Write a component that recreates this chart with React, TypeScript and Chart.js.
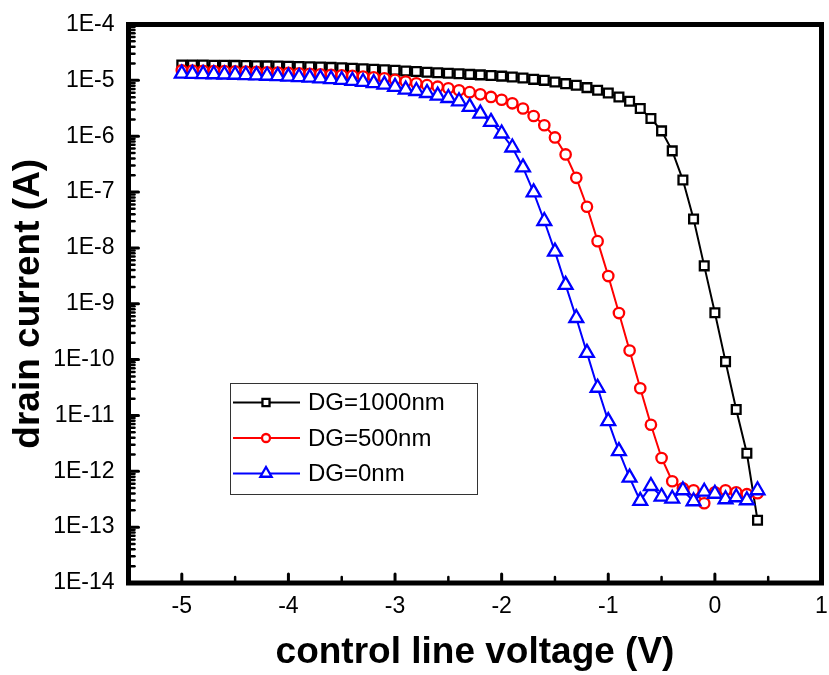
import React, { useEffect, useRef } from "react";
import { Chart, registerables } from "chart.js";

Chart.register(...registerables);

const voltage = [
  -5.0, -4.9, -4.8, -4.7, -4.6, -4.5, -4.4, -4.3, -4.2, -4.1,
  -4.0, -3.9, -3.8, -3.7, -3.6, -3.5, -3.4, -3.3, -3.2, -3.1,
  -3.0, -2.9, -2.8, -2.7, -2.6, -2.5, -2.4, -2.3, -2.2, -2.1,
  -2.0, -1.9, -1.8, -1.7, -1.6, -1.5, -1.4, -1.3, -1.2, -1.1,
  -1.0, -0.9, -0.8, -0.7, -0.6, -0.5, -0.4, -0.3, -0.2, -0.1,
  0.0, 0.1, 0.2, 0.3, 0.4,
];

const dg1000 = [
  1.89e-5, 1.88e-5, 1.875e-5, 1.87e-5, 1.86e-5, 1.853e-5, 1.845e-5, 1.83e-5, 1.815e-5, 1.8e-5,
  1.786e-5, 1.77e-5, 1.75e-5, 1.727e-5, 1.706e-5, 1.68e-5, 1.65e-5, 1.617e-5, 1.585e-5, 1.546e-5,
  1.51e-5, 1.47e-5, 1.436e-5, 1.4e-5, 1.373e-5, 1.34e-5, 1.312e-5, 1.28e-5, 1.254e-5, 1.224e-5,
  1.19e-5, 1.146e-5, 1.1e-5, 1.042e-5, 1.0e-5, 9.33e-6, 8.73e-6, 8.15e-6, 7.41e-6, 6.63e-6,
  5.93e-6, 5.04e-6, 4.22e-6, 3.13e-6, 2.07e-6, 1.245e-6, 5.46e-7, 1.64e-7, 3.3e-8, 4.77e-9,
  6.9e-10, 9.2e-11, 1.28e-11, 2.1e-12, 1.33e-13,
];

const dg500 = [
  1.51e-5, 1.496e-5, 1.484e-5, 1.47e-5, 1.46e-5, 1.448e-5, 1.43e-5, 1.413e-5, 1.396e-5, 1.378e-5,
  1.356e-5, 1.334e-5, 1.312e-5, 1.285e-5, 1.259e-5, 1.233e-5, 1.203e-5, 1.169e-5, 1.132e-5, 1.086e-5,
  1.02e-5, 9.52e-6, 8.84e-6, 8.21e-6, 7.69e-6, 7.2e-6, 6.63e-6, 6.15e-6, 5.62e-6, 5.04e-6,
  4.49e-6, 3.88e-6, 3.13e-6, 2.3e-6, 1.57e-6, 9.5e-7, 4.71e-7, 1.8e-7, 5.46e-8, 1.32e-8,
  3.13e-9, 6.82e-10, 1.45e-10, 3.07e-11, 6.82e-12, 1.73e-12, 6.63e-13, 4.97e-13, 4.58e-13, 2.68e-13,
  4.22e-13, 4.58e-13, 4.22e-13, 3.89e-13, 4.05e-13,
];

const dg0 = [
  1.318e-5, 1.306e-5, 1.296e-5, 1.285e-5, 1.274e-5, 1.259e-5, 1.245e-5, 1.228e-5, 1.208e-5, 1.19e-5,
  1.169e-5, 1.146e-5, 1.117e-5, 1.086e-5, 1.05e-5, 1.016e-5, 9.8e-6, 9.36e-6, 8.91e-6, 8.38e-6,
  7.65e-6, 6.82e-6, 6.44e-6, 5.93e-6, 5.33e-6, 4.83e-6, 4.22e-6, 3.34e-6, 2.54e-6, 1.8e-6,
  1.117e-6, 6.28e-7, 2.76e-7, 9.88e-8, 3.03e-8, 8.59e-9, 2.18e-9, 5.56e-10, 1.32e-10, 3.13e-11,
  7.91e-12, 2.3e-12, 7.72e-13, 2.95e-13, 5.46e-13, 3.51e-13, 3.23e-13, 4.58e-13, 2.91e-13, 4.31e-13,
  3.96e-13, 3.16e-13, 3.43e-13, 3.03e-13, 4.58e-13,
];

const seriesLabels = ["DG=1000nm", "DG=500nm", "DG=0nm"];
const xTickValues = [-5, -4, -3, -2, -1, 0, 1];
const xMinorValues = [-4.5, -3.5, -2.5, -1.5, -0.5, 0.5];
const yDecades = [-14, -13, -12, -11, -10, -9, -8, -7, -6, -5, -4];

const FONT = "'Liberation Sans', Arial, sans-serif";

function drawMarker(ctx: CanvasRenderingContext2D, style: string, r: number, x: number, y: number) {
  ctx.beginPath();
  if (style === "rect") {
    const s = r * Math.SQRT1_2;
    ctx.rect(x - s, y - s, 2 * s, 2 * s);
  } else if (style === "triangle") {
    for (let k = 0; k < 3; k++) {
      const a = (k * 2 * Math.PI) / 3;
      const px = x + Math.sin(a) * r;
      const py = y - Math.cos(a) * r;
      if (k === 0) ctx.moveTo(px, py);
      else ctx.lineTo(px, py);
    }
    ctx.closePath();
  } else {
    ctx.arc(x, y, r, 0, Math.PI * 2);
  }
  ctx.fill();
  ctx.stroke();
}

const framePlugin = {
  id: "frameTicks",
  afterDatasetsDraw(chart: any) {
    const { ctx, chartArea } = chart;
    const { left, right, top, bottom } = chartArea;
    const xs = chart.scales.x;
    const ys = chart.scales.y;
    ctx.save();
    ctx.strokeStyle = "#000";
    ctx.lineCap = "round";
    ctx.lineWidth = 3;
    xTickValues.forEach((v) => {
      const px = xs.getPixelForValue(v);
      ctx.beginPath();
      ctx.moveTo(px, bottom);
      ctx.lineTo(px, bottom - 9);
      ctx.stroke();
    });
    ctx.lineWidth = 2.5;
    xMinorValues.forEach((v) => {
      const px = xs.getPixelForValue(v);
      ctx.beginPath();
      ctx.moveTo(px, bottom);
      ctx.lineTo(px, bottom - 6);
      ctx.stroke();
    });
    yDecades.forEach((e) => {
      const py = ys.getPixelForValue(Math.pow(10, e));
      ctx.lineWidth = 3;
      ctx.beginPath();
      ctx.moveTo(left, py);
      ctx.lineTo(left + 10, py);
      ctx.stroke();
      if (e < -4) {
        ctx.lineWidth = 2.5;
        for (let m = 2; m <= 9; m++) {
          const pm = ys.getPixelForValue(m * Math.pow(10, e));
          ctx.beginPath();
          ctx.moveTo(left, pm);
          ctx.lineTo(left + 6, pm);
          ctx.stroke();
        }
      }
    });
    ctx.lineCap = "butt";
    ctx.lineJoin = "miter";
    ctx.lineWidth = 5;
    ctx.strokeRect(left, top, right - left, bottom - top);
    ctx.restore();
  },
};

const legendPlugin = {
  id: "insetLegend",
  afterDraw(chart: any) {
    const { ctx, chartArea } = chart;
    const bx = chartArea.left + 101.5;
    const by = chartArea.top + 358.5;
    const bw = 247;
    const bh = 111;
    ctx.save();
    ctx.fillStyle = "#fff";
    ctx.fillRect(bx, by, bw, bh);
    ctx.strokeStyle = "#333";
    ctx.lineWidth = 1;
    ctx.strokeRect(bx + 0.5, by + 0.5, bw, bh);
    chart.data.datasets.forEach((ds: any, i: number) => {
      const cy = by + 19.5 + i * 35.5;
      ctx.strokeStyle = ds.borderColor;
      ctx.lineWidth = 2;
      ctx.beginPath();
      ctx.moveTo(bx + 3, cy);
      ctx.lineTo(bx + 70, cy);
      ctx.stroke();
      ctx.fillStyle = "#fff";
      ctx.lineWidth = ds.pointBorderWidth;
      drawMarker(ctx, ds.pointStyle, ds.legendRadius, bx + 36, cy);
      ctx.fillStyle = "#000";
      ctx.font = `24px ${FONT}`;
      ctx.textBaseline = "middle";
      ctx.textAlign = "left";
      ctx.fillText(ds.label, bx + 78, cy + 1);
    });
    ctx.restore();
  },
};

export default function App() {
  const ref = useRef<HTMLCanvasElement | null>(null);
  useEffect(() => {
    if (!ref.current) return;
    const mk = (y: number[]) => voltage.map((v, i) => ({ x: v, y: y[i] }));
    const chart = new Chart(ref.current, {
      type: "line",
      data: {
        datasets: [
          {
            label: seriesLabels[0],
            data: mk(dg1000),
            borderColor: "#000000",
            backgroundColor: "#ffffff",
            pointBackgroundColor: "#ffffff",
            pointBorderColor: "#000000",
            pointStyle: "rect",
            pointRadius: 6.2,
            pointBorderWidth: 2.3,
            borderWidth: 2,
            order: 3,
            legendRadius: 5,
          } as any,
          {
            label: seriesLabels[1],
            data: mk(dg500),
            borderColor: "#ff0000",
            backgroundColor: "#ffffff",
            pointBackgroundColor: "#ffffff",
            pointBorderColor: "#ff0000",
            pointStyle: "circle",
            pointRadius: 5.2,
            pointBorderWidth: 2.3,
            borderWidth: 2,
            order: 2,
            legendRadius: 4,
          } as any,
          {
            label: seriesLabels[2],
            data: mk(dg0),
            borderColor: "#0000ff",
            backgroundColor: "#ffffff",
            pointBackgroundColor: "#ffffff",
            pointBorderColor: "#0000ff",
            pointStyle: "triangle",
            pointRadius: 8,
            pointBorderWidth: 2.3,
            borderWidth: 2,
            order: 1,
            legendRadius: 6.5,
          } as any,
        ],
      },
      options: {
        animation: false,
        responsive: false,
        maintainAspectRatio: false,
        layout: { autoPadding: false, padding: { left: 0, right: 7.5, top: 24.5, bottom: 0 } },
        plugins: { legend: { display: false }, tooltip: { enabled: false } },
        scales: {
          x: {
            type: "linear",
            min: -5.5,
            max: 1,
            grid: { display: false, drawTicks: false },
            border: { display: false },
            afterBuildTicks: (s: any) => {
              s.ticks = xTickValues.map((v) => ({ value: v }));
            },
            afterFit: (s: any) => {
              s.height = 92;
              s.paddingLeft = 0;
              s.paddingRight = 0;
            },
            ticks: {
              color: "#000",
              font: { family: FONT, size: 23 },
              padding: 10,
              maxRotation: 0,
              autoSkip: false,
              callback: (v: any) => String(v),
            },
            title: {
              display: true,
              text: "control line voltage (V)",
              color: "#000",
              font: { family: FONT, size: 37, weight: "bold" },
              padding: { top: 0, bottom: 0 },
            },
          },
          y: {
            type: "logarithmic",
            min: 1e-14,
            max: 1e-4,
            grid: { display: false, drawTicks: false },
            border: { display: false },
            afterBuildTicks: (s: any) => {
              s.ticks = yDecades.map((e) => ({ value: Math.pow(10, e) }));
            },
            afterFit: (s: any) => {
              s.width = 128.5;
              s.paddingTop = 0;
              s.paddingBottom = 0;
            },
            ticks: {
              color: "#000",
              font: { family: FONT, size: 23 },
              padding: 14,
              autoSkip: false,
              callback: (v: any) => "1E" + Math.round(Math.log10(Number(v))),
            },
            title: {
              display: true,
              text: "drain current (A)",
              color: "#000",
              font: { family: FONT, size: 37, weight: "bold" },
              padding: { top: 7, bottom: 0 },
            },
          },
        },
      },
      plugins: [framePlugin, legendPlugin],
    });
    return () => chart.destroy();
  }, []);
  return (
    <div style={{ position: "absolute", left: 0, top: 0, width: 829, height: 675, background: "#fff" }}>
      <canvas ref={ref} width={829} height={675} style={{ display: "block" }} />
    </div>
  );
}
